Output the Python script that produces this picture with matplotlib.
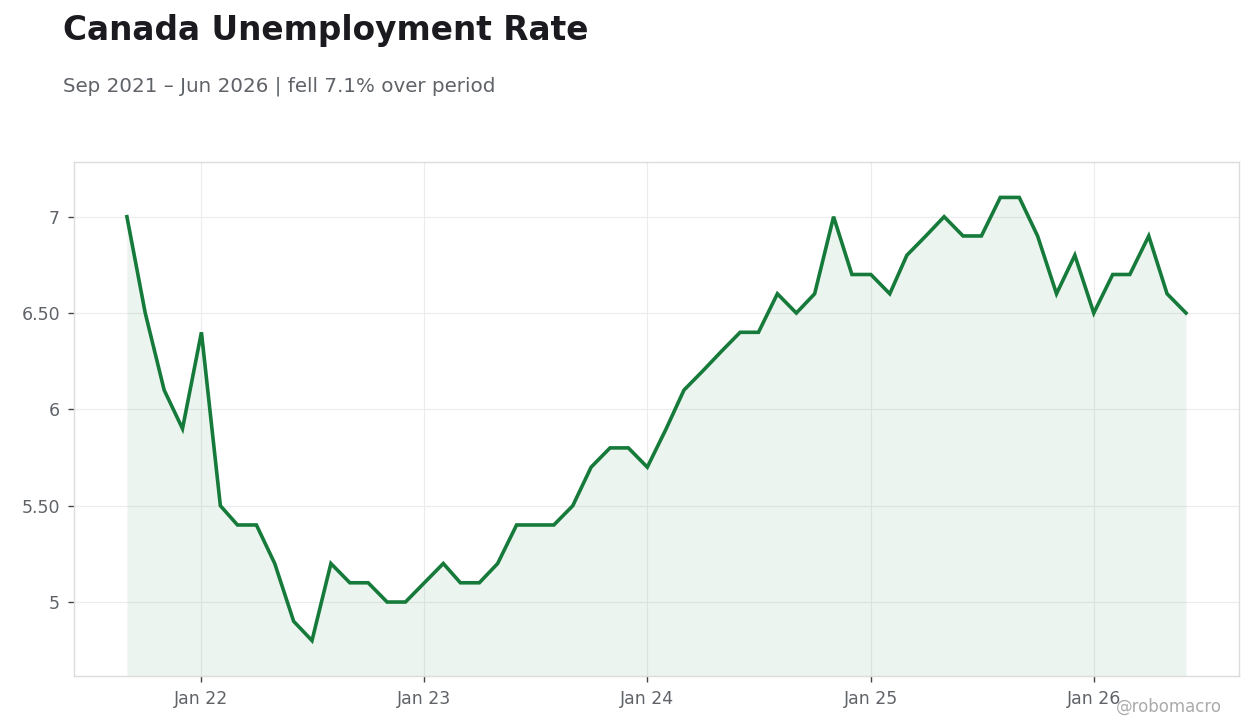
import matplotlib
matplotlib.use("Agg")
import matplotlib.pyplot as plt
import matplotlib.dates as mdates
import pandas as pd
import numpy as np

start_month = "2021-09-01"
rates = [7.0, 6.5, 6.1, 5.9,
         6.4, 5.5, 5.4, 5.4, 5.2, 4.9, 4.8, 5.2, 5.1, 5.1, 5.0, 5.0,
         5.1, 5.2, 5.1, 5.1, 5.2, 5.4, 5.4, 5.4, 5.5, 5.7, 5.8, 5.8,
         5.7, 5.9, 6.1, 6.2, 6.3, 6.4, 6.4, 6.6, 6.5, 6.6, 7.0, 6.7,
         6.7, 6.6, 6.8, 6.9, 7.0, 6.9, 6.9, 7.1, 7.1, 6.9, 6.6, 6.8,
         6.5, 6.7, 6.7, 6.9, 6.6, 6.5]
y_ticks = [5.0, 5.5, 6.0, 6.5, 7.0]
y_tick_labels = ["5", "5.50", "6", "6.50", "7"]
title = "Canada Unemployment Rate"
subtitle = "Sep 2021 \u2013 Jun 2026 | fell 7.1% over period"
watermark = "@robomacro"

dates = pd.date_range(start_month, periods=len(rates), freq="MS")

line_color = "#157a3a"
text_gray = "#5f6368"
grid_color = "#ececec"
spine_color = "#dcdcdc"

fig = plt.figure(figsize=(12.6, 7.28), dpi=100)
ax = fig.add_axes([0.0587, 0.0714, 0.9246, 0.7061])

ax.plot(dates, rates, color=line_color, linewidth=2.6, solid_joinstyle="miter", zorder=3)

ax.margins(x=0.05, y=0.08)
ax.autoscale_view()
ylo, yhi = ax.get_ylim()
ax.fill_between(dates, rates, ylo, color=line_color, alpha=0.08, linewidth=0, zorder=2)
ax.set_ylim(ylo, yhi)

ax.set_yticks(y_ticks)
ax.set_yticklabels(y_tick_labels)
ax.xaxis.set_major_locator(mdates.YearLocator(month=1))
ax.xaxis.set_major_formatter(mdates.DateFormatter("%b %y"))

ax.grid(True, color=grid_color, linewidth=0.8, zorder=0)
ax.set_axisbelow(True)
for s in ax.spines.values():
    s.set_color(spine_color)
    s.set_linewidth(1.0)
ax.tick_params(axis="both", colors="#444444", labelcolor=text_gray, labelsize=12.5,
               length=4, width=1, direction="out", pad=6)

fig.text(0.05, 0.945, title, fontsize=23.6, fontweight="bold", color="#1a1a1f",
         ha="left", va="baseline")
fig.text(0.05, 0.874, subtitle, fontsize=14.3, color=text_gray, ha="left", va="baseline")
fig.text(0.97, 0.022, watermark, fontsize=12, color="#ababab", ha="right", va="baseline")

fig.savefig("out.png", dpi=100)
